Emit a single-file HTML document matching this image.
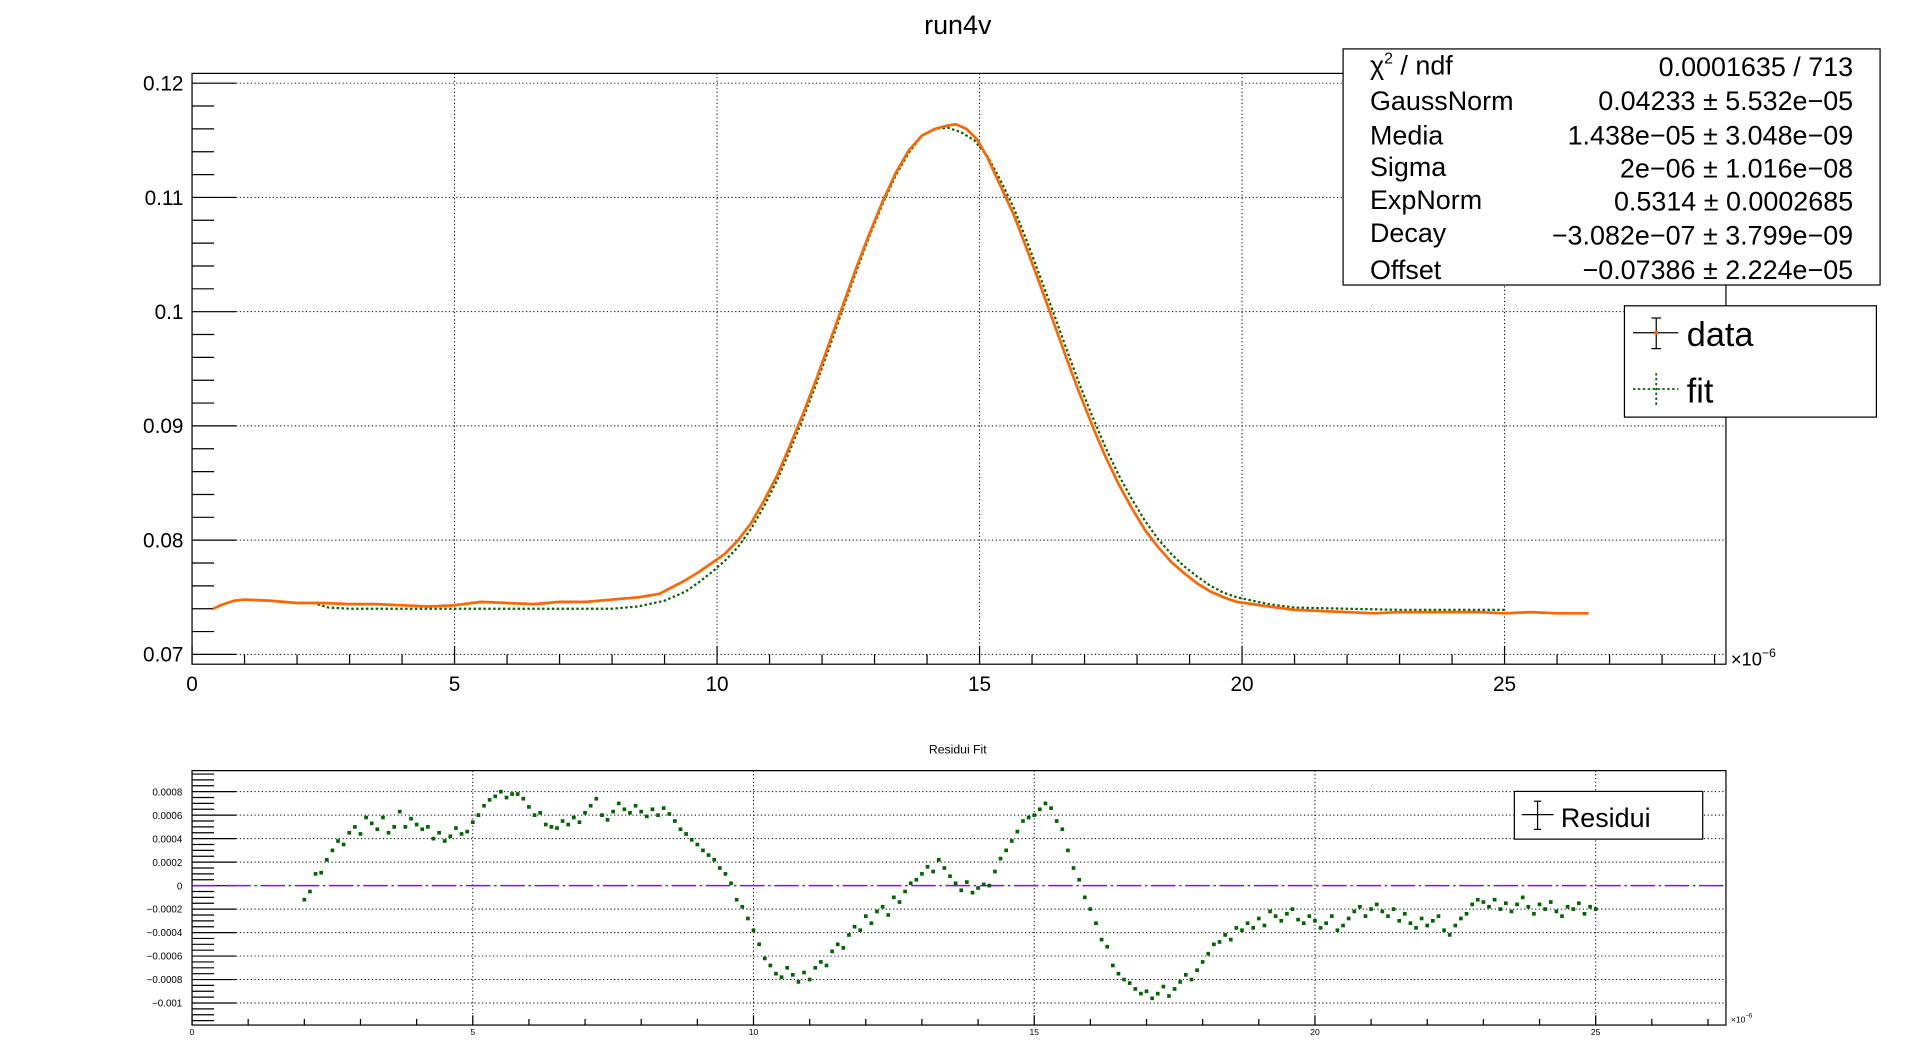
<!DOCTYPE html>
<html><head><meta charset="utf-8"><style>
html,body{margin:0;padding:0;background:#fff;}
svg{display:block;font-family:"Liberation Sans",sans-serif;}
</style></head><body>
<svg id="c" width="1918" height="1056" viewBox="0 0 1568 863.3" preserveAspectRatio="none" xmlns="http://www.w3.org/2000/svg">
<rect width="1568" height="863.3" fill="#fff"/>
<text x="783" y="28" font-size="22" text-anchor="middle">run4v</text>
<g id="topg"></g>
<g id="botg"></g>
<g>
<rect x="1098" y="40" width="439" height="193" fill="#fff" stroke="#000" stroke-width="1"/>
<text x="1120" y="61" font-size="22">χ<tspan font-size="13" dy="-9">2</tspan><tspan dy="9"> / ndf</tspan></text>
<text x="1515" y="62" font-size="22" text-anchor="end">0.0001635 / 713</text>
<text x="1120" y="90" font-size="22">GaussNorm</text><text x="1515" y="90" font-size="22" text-anchor="end">0.04233 ± 5.532e−05</text>
<text x="1120" y="118" font-size="22">Media</text><text x="1515" y="118" font-size="22" text-anchor="end">1.438e−05 ± 3.048e−09</text>
<text x="1120" y="144" font-size="22">Sigma</text><text x="1515" y="145" font-size="22" text-anchor="end">2e−06 ± 1.016e−08</text>
<text x="1120" y="171" font-size="22">ExpNorm</text><text x="1515" y="172" font-size="22" text-anchor="end">0.5314 ± 0.0002685</text>
<text x="1120" y="198" font-size="22">Decay</text><text x="1515" y="200" font-size="22" text-anchor="end">−3.082e−07 ± 3.799e−09</text>
<text x="1120" y="228" font-size="22">Offset</text><text x="1515" y="228" font-size="22" text-anchor="end">−0.07386 ± 2.224e−05</text>
</g>
<g>
<rect x="1328" y="250" width="206" height="91" fill="#fff" stroke="#000"/>
<g>
<line x1="1335" y1="272" x2="1372" y2="272" stroke="#000"/>
<line x1="1354" y1="260" x2="1354" y2="285" stroke="#000"/>
<line x1="1350" y1="260" x2="1358" y2="260" stroke="#000"/><line x1="1350" y1="285" x2="1358" y2="285" stroke="#000"/>
<rect x="1352.5" y="270.5" width="3" height="3" fill="#ff6600"/>
<text x="1379" y="283" font-size="28">data</text></g>
<g>
<line x1="1335" y1="318" x2="1372" y2="318" stroke="#006400" stroke-width="1.5" stroke-dasharray="2,2"/>
<line x1="1354" y1="305" x2="1354" y2="331" stroke="#006400" stroke-width="1.5" stroke-dasharray="2,2"/>
<text x="1379" y="329" font-size="28">fit</text></g>
</g>
</svg>
<script>
// ===== top pad data (x in 1e-6, y) =====
const dataX=[0.4,0.6,0.8,1.0,1.5,2,2.5,3,3.5,4,4.5,5,5.5,6,6.5,7,7.5,8,8.5,8.9,9.15,9.4,9.65,9.9,10.15,10.4,10.65,10.9,11.15,11.4,11.65,11.9,12.15,12.4,12.65,12.9,13.15,13.4,13.65,13.9,14.15,14.4,14.55,14.75,14.95,15.15,15.4,15.65,15.9,16.15,16.4,16.65,16.9,17.15,17.4,17.65,17.9,18.15,18.4,18.65,18.9,19.15,19.4,19.65,19.9,20.5,21,21.5,22,22.5,23,23.5,24,24.5,25,25.5,26,26.6];
const dataY=[0.0740,0.0744,0.0747,0.0748,0.0747,0.0745,0.0745,0.0744,0.0744,0.0743,0.0742,0.0743,0.0746,0.0745,0.0744,0.0746,0.0746,0.0748,0.0750,0.0753,0.0759,0.0765,0.0772,0.0780,0.0788,0.0800,0.0815,0.0835,0.0857,0.0884,0.0912,0.0942,0.0974,0.1006,0.1038,0.1068,0.1096,0.1121,0.1141,0.1154,0.1160,0.1163,0.1164,0.1160,0.1151,0.1135,0.1110,0.1085,0.1055,0.1024,0.0992,0.0960,0.0929,0.0900,0.0873,0.0849,0.0828,0.0809,0.0794,0.0781,0.0771,0.0762,0.0755,0.0750,0.0746,0.0742,0.0739,0.0738,0.0737,0.0736,0.0737,0.0737,0.0737,0.0737,0.0736,0.0737,0.0736,0.0736];
const fitX=[2.3,2.6,3,4,5,6,7,8,8.5,9,9.4,9.65,9.9,10.15,10.4,10.65,10.9,11.15,11.4,11.65,11.9,12.15,12.4,12.65,12.9,13.15,13.4,13.65,13.9,14.15,14.4,14.65,14.9,15.15,15.4,15.65,15.9,16.15,16.4,16.65,16.9,17.15,17.4,17.65,17.9,18.15,18.4,18.65,18.9,19.15,19.4,19.65,19.9,20.5,21,22,23,24,25];
const fitY=[0.0745,0.0741,0.0740,0.0740,0.0740,0.0740,0.0740,0.0740,0.0742,0.0747,0.0755,0.0763,0.0772,0.0782,0.0794,0.0810,0.0830,0.0853,0.0880,0.0908,0.0938,0.0970,0.1003,0.1035,0.1066,0.1094,0.1119,0.1139,0.1154,0.1160,0.1161,0.1157,0.1150,0.1136,0.1115,0.1091,0.1062,0.1031,0.1000,0.0968,0.0937,0.0908,0.0881,0.0857,0.0836,0.0817,0.0801,0.0788,0.0777,0.0768,0.0760,0.0754,0.0750,0.0744,0.0741,0.0740,0.0739,0.0739,0.0739];
const topXTicks=["0","5","10","15","20","25"];
const topYTicks=["0.07","0.08","0.09","0.1","0.11","0.12"];
// ===== residuals (units of 1e-4), x from 2.0 step 0.1 =====
const resStart=2.0, resStep=0.1;
const resVals=[-1.2,-0.5,1.0,1.1,2.2,3.0,3.8,3.5,4.5,5.0,
4.4,5.8,5.3,4.8,5.8,4.5,5.0,6.3,5.0,5.7,
5.2,4.8,5.0,4.0,4.5,3.8,4.2,4.9,4.4,4.6,
5.4,6.0,6.8,7.3,7.6,8.0,7.5,7.8,7.8,7.4,
6.7,6.0,6.2,5.2,5.0,4.9,5.5,5.2,5.8,5.4,
6.2,6.8,7.4,6.0,5.6,6.3,7.0,6.5,6.2,6.8,
6.3,5.9,6.5,6.0,6.6,6.1,5.5,4.8,4.4,3.9,
3.5,3.0,2.6,2.2,1.5,1.0,0.2,-1.2,-1.8,-2.8,
-3.8,-5.0,-6.2,-6.8,-7.5,-7.8,-7.0,-7.6,-8.2,-7.4,
-8.0,-7.0,-6.5,-6.8,-5.6,-5.0,-5.3,-4.2,-3.5,-3.8,
-2.6,-3.2,-2.2,-1.8,-2.5,-1.0,-1.4,-0.5,0.2,0.5,
1.0,1.6,1.2,2.2,1.5,0.8,0.2,-0.4,0.3,-0.6,
-0.2,0.1,0.0,1.2,2.3,3.0,3.8,4.6,5.5,5.8,
6.0,6.5,7.0,6.6,5.5,4.8,3.0,1.5,0.5,-1.0,
-2.0,-3.2,-4.6,-5.2,-6.8,-7.5,-8.0,-8.3,-8.8,-9.2,
-9.0,-9.6,-9.2,-8.6,-9.4,-8.8,-8.2,-7.6,-8.0,-7.2,
-6.5,-5.8,-5.0,-4.8,-4.2,-4.6,-3.6,-3.8,-3.2,-3.6,
-2.8,-3.4,-2.2,-2.6,-3.0,-2.4,-2.0,-2.9,-3.2,-2.6,
-3.0,-3.6,-3.2,-2.6,-3.8,-3.4,-2.8,-2.2,-1.8,-2.6,
-2.0,-1.6,-2.2,-2.6,-2.0,-3.0,-2.4,-3.2,-3.6,-2.8,
-3.4,-3.0,-2.6,-3.8,-4.2,-3.4,-2.8,-2.4,-1.6,-1.2,
-1.4,-1.8,-1.2,-2.0,-1.5,-2.2,-1.6,-1.0,-1.8,-2.4,
-1.6,-2.0,-1.4,-2.2,-2.6,-1.8,-2.0,-1.5,-2.4,-1.8,
-2.0];
const botXTicks=["0","5","10","15","20","25"];
const botYTicks=["\u22120.001","\u22120.0008","\u22120.0006","\u22120.0004","\u22120.0002","0","0.0002","0.0004","0.0006","0.0008"];

const NS="http://www.w3.org/2000/svg";
function mk(p,t,a){const e=document.createElementNS(NS,t);for(const k in a)e.setAttribute(k,a[k]);p.appendChild(e);return e;}

// ---- top pad ----
const T={x0:157,x1:1411,y0:60,y1:543};
const tx=v=>157+v*42.92;
const ty=v=>535-(v-0.07)*9340;
const topG=document.getElementById('topg');
topXTicks.forEach(s=>{const v=+s;if(v>0){const g=mk(topG,'line',{x1:tx(v),x2:tx(v),y1:T.y0,y2:T.y1,stroke:'#000','stroke-width':0.8,'stroke-dasharray':'1,2'});

}});
topYTicks.forEach(s=>{const v=+s;const g=mk(topG,'line',{x1:T.x0,x2:T.x1,y1:ty(v),y2:ty(v),stroke:'#000','stroke-width':0.8,'stroke-dasharray':'1,2'});

});
for(let i=0;i*0.002+0.07<=0.1205;i++){const v=0.07+i*0.002;const maj=i%5==0;mk(topG,'line',{x1:T.x0,x2:T.x0+(maj?36:18),y1:ty(v),y2:ty(v),stroke:'#000','stroke-width':1});}
topYTicks.forEach(s=>{const t=mk(topG,'text',{x:150,y:ty(+s)+6,'font-size':17,'text-anchor':'end'});t.textContent=s;

});
for(let i=0;i<=29;i++){const maj=i%5==0;mk(topG,'line',{x1:tx(i),x2:tx(i),y1:T.y1,y2:T.y1-(maj?15:8),stroke:'#000','stroke-width':1});}
topXTicks.forEach(s=>{const t=mk(topG,'text',{x:tx(+s),y:565,'font-size':17,'text-anchor':'middle'});t.textContent=s;

});
{const t=mk(topG,'text',{x:1415,y:544,'font-size':15});t.innerHTML='×10<tspan font-size="10" dy="-7">−6</tspan>';

}
{const p=mk(topG,'polyline',{points:fitX.map((x,i)=>tx(x)+','+ty(fitY[i])).join(' '),fill:'none',stroke:'#006400','stroke-width':1.8,'stroke-dasharray':'2,2'});

}
{const p=mk(topG,'polyline',{points:dataX.map((x,i)=>tx(x)+','+ty(dataY[i])).join(' '),fill:'none',stroke:'#ff6600','stroke-width':2.2,'stroke-linejoin':'round'});

}
{const f=mk(topG,'rect',{x:T.x0,y:T.y0,width:T.x1-T.x0,height:T.y1-T.y0,fill:'none',stroke:'#000','stroke-width':1});

}

// ---- bottom pad ----
const B={x0:157,x1:1411,y0:630,y1:838};
const bx=v=>157+v*45.9;
const by=v=>724-v*96000;
const botG=document.getElementById('botg');
{const t=mk(botG,'text',{x:783,y:616,'font-size':10,'text-anchor':'middle'});t.textContent='Residui Fit';

}
botXTicks.forEach(s=>{const v=+s;if(v>0){const g=mk(botG,'line',{x1:bx(v),x2:bx(v),y1:B.y0,y2:B.y1,stroke:'#000','stroke-width':0.8,'stroke-dasharray':'1,2'});

}});
botYTicks.forEach(s=>{const v=+s.replace('\u2212','-');if(v!==0){const g=mk(botG,'line',{x1:B.x0,x2:B.x1,y1:by(v),y2:by(v),stroke:'#000','stroke-width':0.8,'stroke-dasharray':'1,2'});

}});
for(let i=-23;i<=19;i++){const v=i*0.00005;const maj=i%4==0;mk(botG,'line',{x1:B.x0,x2:B.x0+(maj?36:18),y1:by(v),y2:by(v),stroke:'#000','stroke-width':1});}
botYTicks.forEach(s=>{const v=+s.replace('\u2212','-');const t=mk(botG,'text',{x:149,y:by(v)+3,'font-size':8,'text-anchor':'end'});t.textContent=s;

});
for(let i=0;i<=27;i++){const maj=i%5==0;mk(botG,'line',{x1:bx(i),x2:bx(i),y1:B.y1,y2:B.y1-(maj?8:5),stroke:'#000','stroke-width':1});}
botXTicks.forEach(s=>{const t=mk(botG,'text',{x:bx(+s),y:846,'font-size':7,'text-anchor':'middle'});t.textContent=s;

});
{const t=mk(botG,'text',{x:1415,y:836,'font-size':7});t.innerHTML='×10<tspan font-size="5" dy="-4">−6</tspan>';

}
{const l=mk(botG,'line',{x1:B.x0,x2:B.x1,y1:by(0),y2:by(0),stroke:'#9900ff','stroke-width':1.2,'stroke-dasharray':'20,3,2,3'});

}
resVals.forEach((r,i)=>{const x=resStart+i*resStep;const p=mk(botG,'rect',{x:bx(x)-1.5,y:by(r*1e-4)-1.5,width:3,height:3,fill:'#006400'});

});
{const f=mk(botG,'rect',{x:B.x0,y:B.y0,width:B.x1-B.x0,height:B.y1-B.y0,fill:'none',stroke:'#000','stroke-width':1});

}
{const g=mk(botG,'g',{});


mk(g,'rect',{x:1238,y:647,width:154,height:39,fill:'#fff',stroke:'#000'});
mk(g,'line',{x1:1244,x2:1270,y1:666,y2:666,stroke:'#000'});
mk(g,'line',{x1:1257,x2:1257,y1:655,y2:678,stroke:'#000'});
mk(g,'line',{x1:1254,x2:1260,y1:655,y2:655,stroke:'#000'});
mk(g,'line',{x1:1254,x2:1260,y1:678,y2:678,stroke:'#000'});
const t=mk(g,'text',{x:1276,y:676,'font-size':22});t.textContent='Residui';}
</script>
</body></html>
